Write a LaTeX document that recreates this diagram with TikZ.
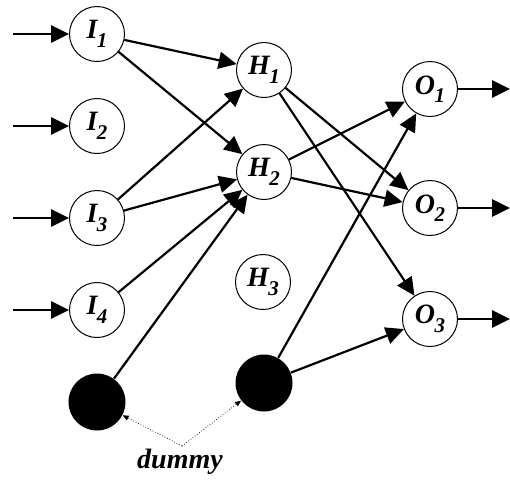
\documentclass[tikz,border=0pt]{standalone}
\usepackage{fontspec}
\setmainfont{Liberation Serif}
\usepackage{tikz}
\usetikzlibrary{arrows.meta}
\newcommand{\lab}[2]{\textbf{\textit{#1\kern-0.3pt\raisebox{-4.2pt}{\fontsize{10.5}{10.5}\selectfont #2}}}}
\tikzset{
  unit/.style={circle,draw,line width=0.5pt,minimum size=27.5pt,inner sep=0pt,
    font=\fontsize{14}{14}\selectfont},
  dummynode/.style={circle,fill=black,minimum size=28.5pt,inner sep=0pt},
  link/.style={-{Triangle[length=9pt,width=8.5pt]},line width=1.1pt},
  pointer/.style={-{Triangle[length=3pt,width=2.5pt]},densely dotted,line width=0.35pt}
}

\begin{document}
\begin{tikzpicture}[x=0.5pt,y=-0.5pt]
  \useasboundingbox (0,0) rectangle (510,479);
  % input layer
  \node[unit] (i1) at (97,34) {\lab{I}{1}};
  \node[unit] (i2) at (97,126) {\lab{I}{2}};
  \node[unit] (i3) at (97,218) {\lab{I}{3}};
  \node[unit] (i4) at (97,310) {\lab{I}{4}};
  \node[dummynode] (d1) at (97,402) {};
  % hidden layer
  \node[unit] (h1) at (264,70) {\lab{H}{1}};
  \node[unit] (h2) at (264,172) {\lab{H}{2}};
  \node[unit] (h3) at (263,282) {\lab{H}{3}};
  \node[dummynode] (d2) at (264,383) {};
  % output layer
  \node[unit] (o1) at (430,89) {\lab{O}{1}};
  \node[unit] (o2) at (430,208) {\lab{O}{2}};
  \node[unit] (o3) at (430,319) {\lab{O}{3}};
  \node[font=\fontsize{14}{14}\selectfont\bfseries\itshape] (dm) at (180,462) {dummy};
  \coordinate (v) at (182,446);
  \coordinate (lim) at (13,0);
  \coordinate (rim) at (510,0);

  \foreach \n in {1,...,4}
    \draw[link,line width=1.4pt] (i\n -| lim) -- (i\n);
  \foreach \n in {1,...,3}
    \draw[link,line width=1.4pt] (o\n) -- (o\n -| rim);

  \foreach \a/\b in {i1/h1,i1/h2,i3/h1,i3/h2,i4/h2,d1/h2,
                     h1/o2,h1/o3,h2/o1,h2/o2,d2/o1,d2/o3}
    \draw[link] (\a) -- (\b);

  \draw[pointer] (v) -- (d1);
  \draw[pointer] (v) -- (d2);
\end{tikzpicture}
\end{document}
